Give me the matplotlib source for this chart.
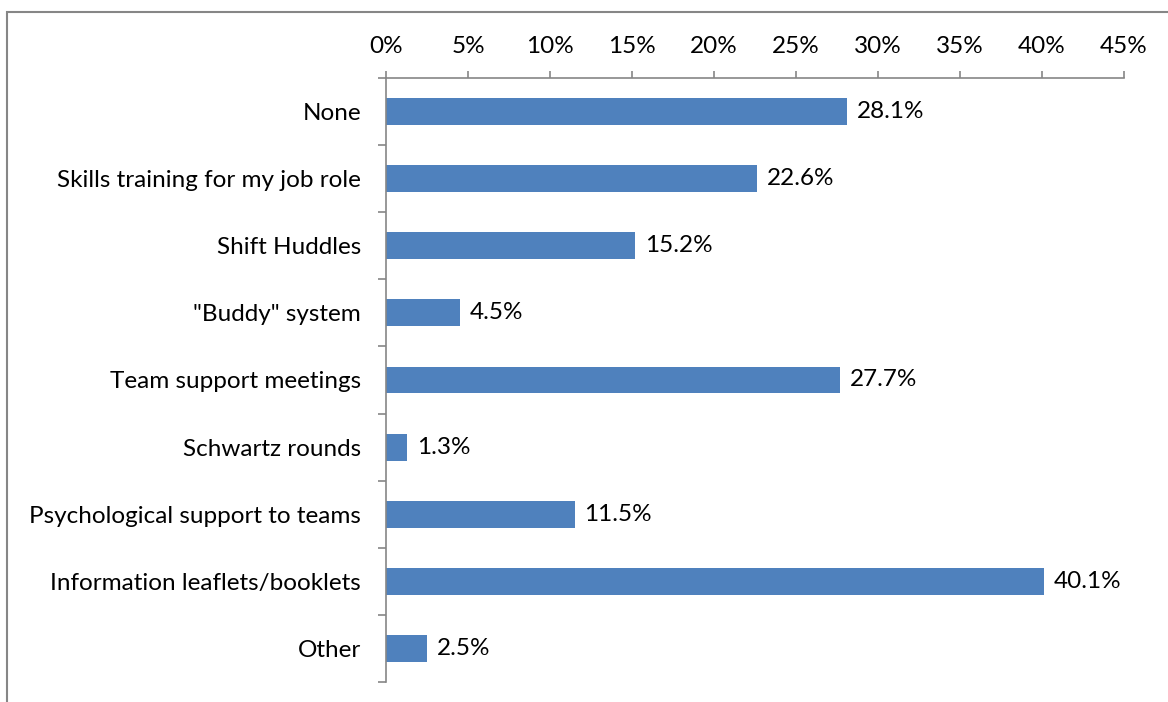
import matplotlib
matplotlib.use("Agg")
import matplotlib.pyplot as plt
from matplotlib.patches import Rectangle
from matplotlib.ticker import FixedLocator, PercentFormatter

categories = [
    "None",
    "Skills training for my job role",
    "Shift Huddles",
    '"Buddy" system',
    "Team support meetings",
    "Schwartz rounds",
    "Psychological support to teams",
    "Information leaflets/booklets",
    "Other",
]
values = [28.1, 22.6, 15.2, 4.5, 27.7, 1.3, 11.5, 40.1, 2.5]
x_ticks = [0, 5, 10, 15, 20, 25, 30, 35, 40, 45]

BAR = "#4f81bd"
GRID = "#868686"
FS = 17.5

plt.rcParams["font.family"] = ["Lato", "DejaVu Sans"]

fig = plt.figure(figsize=(11.68, 7.02), dpi=100)
ax = fig.add_axes([386 / 1168, 1 - 682 / 702, (1124 - 386) / 1168, (682 - 78) / 702])

ypos = list(range(len(categories)))
ax.barh(ypos, values, height=0.4, color=BAR, zorder=2)
for y, v in zip(ypos, values):
    ax.text(v + 0.6, y, f"{v:.1f}%", va="center", ha="left", fontsize=FS, color="black")

ax.set_xlim(0, 45)
ax.set_ylim(len(categories) - 0.5, -0.5)
ax.set_xticks(x_ticks)
ax.xaxis.set_major_formatter(PercentFormatter(decimals=0))
ax.xaxis.tick_top()
ax.tick_params(axis="x", direction="out", length=5, width=1.2, color=GRID,
               labelsize=FS, pad=10)

ax.set_yticks(ypos)
ax.set_yticklabels(categories)
ax.yaxis.set_minor_locator(FixedLocator([i - 0.5 for i in range(len(categories) + 1)]))
ax.tick_params(axis="y", which="major", length=0, labelsize=FS, pad=18)
ax.tick_params(axis="y", which="minor", direction="out", length=6, width=1.2, color=GRID)

for side in ("right", "bottom"):
    ax.spines[side].set_visible(False)
for side in ("top", "left"):
    ax.spines[side].set_color(GRID)
    ax.spines[side].set_linewidth(1.2)

# chart-area frame, running off the right and bottom edges
fig.patches.append(Rectangle((7 / 1168, -0.05), 1.2, 1 - 12 / 702 + 0.05,
                             transform=fig.transFigure, fill=False,
                             edgecolor=GRID, linewidth=1.5))

fig.savefig("out.png", dpi=100)
